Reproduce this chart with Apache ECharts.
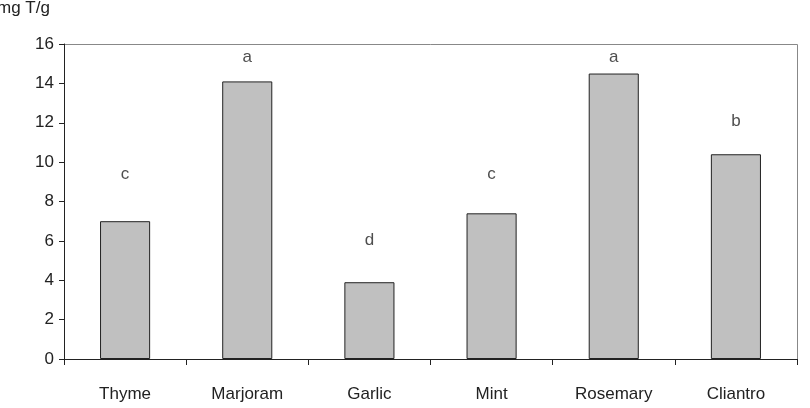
<!DOCTYPE html>
<html>
<head>
<meta charset="utf-8">
<script src="https://cdn.jsdelivr.net/npm/echarts@6/dist/echarts.min.js"></script>
<style>html,body{margin:0;padding:0;background:#fff}#c{width:810px;height:408px}</style>
</head>
<body>
<div id="c"></div>
<script>
var categories = ['Thyme', 'Marjoram', 'Garlic', 'Mint', 'Rosemary', 'Cliantro'];
var values = [7.0, 14.1, 3.9, 7.4, 14.5, 10.4];
var letters = ['c', 'a', 'd', 'c', 'a', 'b'];
var letterY = [9.4, 15.3, 6.05, 9.4, 15.3, 12.05];
var yTicks = [0, 2, 4, 6, 8, 10, 12, 14, 16];

var FONT = 'Liberation Sans, Arial, Helvetica, sans-serif';
var chart = echarts.init(document.getElementById('c'));
chart.setOption({
  animation: false,
  textStyle: { fontFamily: FONT },
  graphic: [
    { type: 'text', left: -3, top: 0, style: { text: 'mg T/g', font: '17px ' + FONT, fill: '#222' } },
    { type: 'line', shape: { x1: 64, y1: 44.5, x2: 797.5, y2: 44.5 }, style: { stroke: '#888', lineWidth: 1 } },
    { type: 'line', shape: { x1: 797.5, y1: 44.5, x2: 797.5, y2: 359 }, style: { stroke: '#888', lineWidth: 1 } }
  ],
  grid: { left: 64, right: 13, top: 44, bottom: 49 },
  xAxis: {
    type: 'category',
    data: categories,
    axisLine: { lineStyle: { color: '#222', width: 1 } },
    axisTick: { show: true, length: 6, alignWithLabel: false, lineStyle: { color: '#222' } },
    axisLabel: { color: '#222', fontSize: 17, margin: 27 }
  },
  yAxis: {
    type: 'value',
    min: 0, max: 16, interval: 2,
    axisLine: { show: true, lineStyle: { color: '#222', width: 1 } },
    axisTick: { show: true, length: 5, lineStyle: { color: '#222' } },
    splitLine: { show: false },
    axisLabel: { color: '#222', fontSize: 17, margin: 10,
      formatter: function (v) { return yTicks.indexOf(v) >= 0 ? String(v) : ''; } }
  },
  series: [
    {
      type: 'bar',
      data: values,
      barWidth: '41%',
      itemStyle: { color: '#c0c0c0', borderColor: '#222', borderWidth: 1 }
    },
    {
      type: 'scatter',
      data: letterY.map(function (y, i) { return [i, y]; }),
      symbolSize: 0,
      label: {
        show: true, position: 'inside', color: '#222', fontSize: 17,
        formatter: function (p) { return letters[p.dataIndex]; }
      },
      z: 5
    }
  ]
});
</script>
</body>
</html>
